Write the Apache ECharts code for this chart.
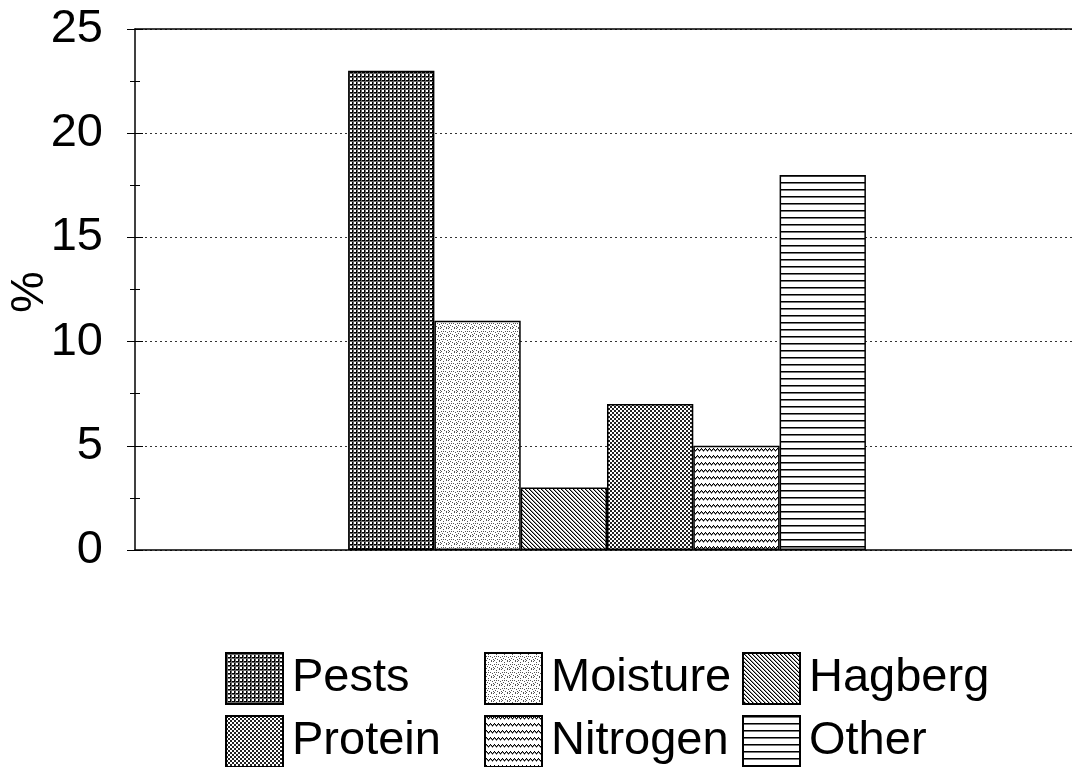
<!DOCTYPE html>
<html><head><meta charset="utf-8">
<script src="https://cdn.jsdelivr.net/npm/echarts@6/dist/echarts.min.js"></script>
<style>html,body{margin:0;padding:0;background:#fff}#c{width:1072px;height:767px}</style>
</head><body><div id="c"></div>
<script>
const categories = [''];
const seriesNames = ['Pests', 'Moisture', 'Hagberg', 'Protein', 'Nitrogen', 'Other'];
const pests = [23];
const moisture = [11];
const hagberg = [3];
const protein = [7];
const nitrogen = [5];
const other = [18];
const yTicks = [0, 5, 10, 15, 20, 25];
const yAxisTitle = '%';

function pat(w, h, draw) {
  const c = document.createElement('canvas');
  c.width = w; c.height = h;
  const x = c.getContext('2d');
  x.fillStyle = '#fff'; x.fillRect(0, 0, w, h);
  x.fillStyle = '#000';
  draw(x);
  return { image: c, repeat: 'repeat' };
}
const patterns = {
  Pests: pat(4, 4, x => { x.fillRect(0, 0, 4, 1); x.fillRect(0, 0, 1, 4); x.fillStyle = '#666'; x.fillRect(0, 1, 4, 1); x.fillRect(1, 0, 1, 4); }),
  Moisture: pat(8, 8, x => {
    x.fillStyle = '#555';
    [[0,0],[3,1],[6,0],[1,3],[5,3],[7,4],[2,5],[4,6],[0,6],[6,7],[3,3],[1,7]].forEach(p => x.fillRect(p[0], p[1], 1, 1));
  }),
  Hagberg: pat(4, 4, x => { for (let i = 0; i < 4; i++) { x.fillRect(i, i, 1, 1); } x.fillStyle = '#999'; for (let i = 0; i < 4; i++) { x.fillRect((i + 1) % 4, i, 1, 1); } }),
  Protein: pat(4, 4, x => { x.fillStyle = '#222'; x.fillRect(0, 0, 2, 2); x.fillRect(2, 2, 2, 2); }),
  Nitrogen: pat(4, 7, x => { [[0,1],[1,0],[2,1],[3,2]].forEach(p => x.fillRect(p[0], p[1], 1, 1)); x.fillStyle = '#888'; [[0,2],[1,1],[2,2],[3,3]].forEach(p => x.fillRect(p[0], p[1], 1, 1)); }),
  Other: pat(4, 7, x => { x.fillRect(0, 0, 4, 1); x.fillStyle = '#777'; x.fillRect(0, 1, 4, 1); })
};
const values = { Pests: pests, Moisture: moisture, Hagberg: hagberg, Protein: protein, Nitrogen: nitrogen, Other: other };

const FONT = '"Liberation Sans", Arial, Helvetica, sans-serif';
const chart = echarts.init(document.getElementById('c'), null, { renderer: 'canvas' });

const legendPos = {
  Pests: [225, 652], Moisture: [484, 652], Hagberg: [742, 652],
  Protein: [225, 715], Nitrogen: [484, 715], Other: [742, 715]
};
function legendItem(name) {
  return {
    data: [name], left: legendPos[name][0], top: legendPos[name][1], orient: 'horizontal',
    itemWidth: 57, itemHeight: 51, icon: 'rect', padding: 0,
    selectedMode: false,
    textStyle: { fontFamily: FONT, fontSize: 47, color: '#000', padding: [0, 0, 0, 4] }
  };
}

chart.setOption({
  animation: false,
  backgroundColor: '#fff',
  grid: { left: 135, top: 29, bottom: 217, width: 944, outerBoundsMode: 'none', containLabel: false },
  legend: seriesNames.map(legendItem),
  graphic: [{
    type: 'text', x: 30, y: 292, rotation: Math.PI / 2,
    style: { text: yAxisTitle, font: '47px ' + FONT, fill: '#000', align: 'center', verticalAlign: 'middle' }
  }],
  xAxis: [{
    type: 'category', data: categories,
    axisLine: { show: true, lineStyle: { color: '#000', width: 1.5 } },
    axisTick: { show: false }, axisLabel: { show: false }
  }, {
    type: 'category', data: categories, position: 'top',
    axisLine: { show: true, onZero: false, lineStyle: { color: '#000', width: 1.5 } },
    axisTick: { show: false }, axisLabel: { show: false }
  }],
  yAxis: [{
    type: 'value', min: 0, max: 25, interval: 5,
    axisLine: { show: true, lineStyle: { color: '#000', width: 1.5 } },
    axisTick: { show: true, length: 8, lineStyle: { color: '#000' } },
    minorTick: { show: true, splitNumber: 2, length: 5, lineStyle: { color: '#000' } },
    axisLabel: { fontFamily: FONT, fontSize: 47, color: '#000', margin: 32,
      formatter: v => yTicks.indexOf(v) >= 0 ? String(v) : '' },
    splitLine: { show: true, lineStyle: { color: '#333', type: [2, 3], width: 1 } }
  }, {
    type: 'value', min: 0, max: 25, interval: 5, position: 'left',
    axisLine: { show: false },
    axisTick: { show: true, inside: true, length: 8, lineStyle: { color: '#000' } },
    minorTick: { show: true, splitNumber: 2, length: 5, lineStyle: { color: '#000' } },
    axisLabel: { show: false }, splitLine: { show: false }
  }],
  series: seriesNames.map(n => ({
    name: n, type: 'bar', data: values[n], barWidth: 86.3, barGap: '0%',
    itemStyle: { color: patterns[n], borderColor: '#000', borderWidth: 1.5 }
  }))
});
</script></body></html>
